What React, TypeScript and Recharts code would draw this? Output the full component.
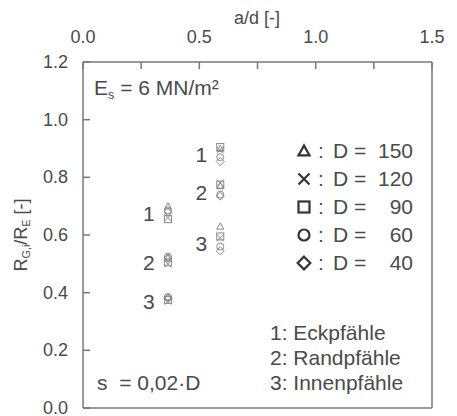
import React from "react";
import { ScatterChart, Scatter, XAxis, YAxis } from "recharts";

const adGroups = [0.365, 0.59];
const diameters = [150, 120, 90, 60, 40];
const symbols = ["triangle", "x", "square", "circle", "diamond"];

// R_G,i / R_E for [Eck, Rand, Innen] at each a/d group
const ratioD150 = [[0.7, 0.52, 0.385], [0.9, 0.77, 0.63]];
const ratioD120 = [[0.66, 0.5, 0.37], [0.895, 0.78, 0.59]];
const ratioD90 = [[0.655, 0.505, 0.375], [0.905, 0.775, 0.595]];
const ratioD60 = [[0.685, 0.525, 0.385], [0.87, 0.74, 0.56]];
const ratioD40 = [[0.68, 0.52, 0.38], [0.855, 0.735, 0.545]];

const pileNumbers = ["1", "2", "3"];
const labelPosG1 = [0.676, 0.503, 0.368];
const labelPosG2 = [0.878, 0.746, 0.572];

const pileTypes = ["1: Eckpfähle", "2: Randpfähle", "3: Innenpfähle"];

const xTicks = [0, 0.25, 0.5, 0.75, 1, 1.25, 1.5];
const yTicks = [0, 0.2, 0.4, 0.6, 0.8, 1.0, 1.2];

const allRatios = [ratioD150, ratioD120, ratioD90, ratioD60, ratioD40];

const series = allRatios.map((groups) =>
  adGroups.flatMap((ad, g) => groups[g].map((r) => ({ ad, r })))
);

const labelData = adGroups.flatMap((ad, g) =>
  pileNumbers.map((n, i) => ({ ad, r: g === 0 ? labelPosG1[i] : labelPosG2[i], n }))
);

const FONT = "'Liberation Sans', Arial, sans-serif";
const TEXT = "#4a4a4a";
const AXIS = "#777";
const TOP = 62;
const LEFT = 83;
const RIGHT = 432;
const BOTTOM = 408;
const TICK = 7;

function Marker({ kind, cx, cy, r, stroke, sw }: any) {
  const common = { fill: "none", stroke, strokeWidth: sw };
  switch (kind) {
    case "triangle":
      return (
        <path
          d={`M${cx},${cy - r}L${cx + r},${cy + r * 0.8}L${cx - r},${cy + r * 0.8}Z`}
          {...common}
          strokeLinejoin="miter"
        />
      );
    case "x":
      return (
        <path
          d={`M${cx - r},${cy - r}L${cx + r},${cy + r}M${cx + r},${cy - r}L${cx - r},${cy + r}`}
          {...common}
        />
      );
    case "square":
      return <rect x={cx - r} y={cy - r} width={2 * r} height={2 * r} {...common} />;
    case "circle":
      return <circle cx={cx} cy={cy} r={r} {...common} />;
    default: {
      const d = r * 1.15;
      return (
        <path
          d={`M${cx},${cy - d}L${cx + d},${cy}L${cx},${cy + d}L${cx - d},${cy}Z`}
          {...common}
        />
      );
    }
  }
}

const TopTick = (props: any) => {
  const x = props.payload.coordinate;
  const v = props.payload.value;
  const major = Math.abs(v * 2 - Math.round(v * 2)) < 1e-6;
  return (
    <g>
      <line x1={x} x2={x} y1={TOP} y2={TOP + TICK} stroke={AXIS} strokeWidth={1.5} />
      {major && (
        <text x={x} y={37} textAnchor="middle" dominantBaseline="central" fontSize={18} fill={TEXT} fontFamily={FONT}>
          {v.toFixed(1)}
        </text>
      )}
    </g>
  );
};

const BottomTick = (props: any) => {
  const x = props.payload.coordinate;
  return <line x1={x} x2={x} y1={BOTTOM} y2={BOTTOM - TICK} stroke={AXIS} strokeWidth={1.5} />;
};

const LeftTick = (props: any) => {
  const y = props.payload.coordinate;
  return (
    <g>
      <line x1={LEFT} x2={LEFT + TICK} y1={y} y2={y} stroke={AXIS} strokeWidth={1.5} />
      <text x={68} y={y} textAnchor="end" dominantBaseline="central" fontSize={18} fill={TEXT} fontFamily={FONT}>
        {props.payload.value.toFixed(1)}
      </text>
    </g>
  );
};

const RightTick = (props: any) => {
  const y = props.payload.coordinate;
  return <line x1={RIGHT} x2={RIGHT - TICK} y1={y} y2={y} stroke={AXIS} strokeWidth={1.5} />;
};

const sub = { fontSize: "0.6em", verticalAlign: "-0.3em" };

const abs = (left: number, top: number): React.CSSProperties => ({
  position: "absolute",
  left,
  top,
  fontSize: 21,
  lineHeight: 1,
  color: TEXT,
  whiteSpace: "pre",
  fontFamily: FONT,
});

export default function App() {
  return (
    <div style={{ position: "absolute", left: 0, top: 0, width: 457, height: 416, background: "#fff" }}>
      <ScatterChart
        width={457}
        height={416}
        margin={{ top: TOP - 1, right: 457 - RIGHT - 1, bottom: 416 - BOTTOM - 1, left: LEFT - 1 }}
      >
        <XAxis
          xAxisId="top"
          orientation="top"
          type="number"
          dataKey="ad"
          domain={[0, 1.5]}
          ticks={xTicks}
          height={1}
          tickLine={false}
          axisLine={{ stroke: AXIS, strokeWidth: 1.5 }}
          tick={<TopTick />}
          interval={0}
        />
        <XAxis
          xAxisId="bottom"
          orientation="bottom"
          type="number"
          dataKey="ad"
          domain={[0, 1.5]}
          ticks={xTicks}
          height={1}
          tickLine={false}
          axisLine={{ stroke: AXIS, strokeWidth: 1.5 }}
          tick={<BottomTick />}
          interval={0}
        />
        <YAxis
          yAxisId="left"
          type="number"
          dataKey="r"
          domain={[0, 1.2]}
          ticks={yTicks}
          width={1}
          tickLine={false}
          axisLine={{ stroke: AXIS, strokeWidth: 1.5 }}
          tick={<LeftTick />}
          interval={0}
        />
        <YAxis
          yAxisId="right"
          orientation="right"
          type="number"
          dataKey="r"
          domain={[0, 1.2]}
          ticks={yTicks}
          width={1}
          tickLine={false}
          axisLine={{ stroke: AXIS, strokeWidth: 1.5 }}
          tick={<RightTick />}
          interval={0}
        />
        {series.map((data, i) => (
          <Scatter
            key={diameters[i]}
            name={`D = ${diameters[i]}`}
            data={data}
            xAxisId="top"
            yAxisId="left"
            isAnimationActive={false}
            shape={(p: any) => <Marker kind={symbols[i]} cx={p.cx} cy={p.cy} r={3.5} stroke="#888" sw={1} />}
          />
        ))}
        <Scatter
          data={labelData}
          xAxisId="top"
          yAxisId="left"
          isAnimationActive={false}
          shape={(p: any) => (
            <text x={p.cx - 19} y={p.cy} textAnchor="middle" dominantBaseline="central" fontSize={21} fill={TEXT} fontFamily={FONT}>
              {p.payload?.n}
            </text>
          )}
        />
      </ScatterChart>

      <div style={{ ...abs(257, 9), fontSize: 18, transform: "translateX(-50%)" }}>a/d [-]</div>

      <div
        style={{
          ...abs(22, 235),
          fontSize: 18,
          transform: "translate(-50%, -50%) rotate(-90deg)",
        }}
      >
        R<span style={sub}>G,i</span>/R<span style={sub}>E</span> [-]
      </div>

      <div style={abs(94, 77)}>
        E<span style={sub}>s</span> = 6 MN/m²
      </div>

      <div style={abs(97, 372)}>s  = 0,02·D</div>

      {pileTypes.map((t, i) => (
        <div key={t} style={abs(270, 322 + i * 25)}>
          {t}
        </div>
      ))}

      {diameters.map((d, i) => (
        <div key={d} style={{ ...abs(296, 140 + i * 28), width: 120, height: 21 }}>
          <svg width={18} height={21} style={{ position: "absolute", left: 0, top: 0 }}>
            <Marker kind={symbols[i]} cx={8} cy={11} r={5.5} stroke="#333" sw={2.2} />
          </svg>
          <span style={{ position: "absolute", left: 22 }}>:</span>
          <span style={{ position: "absolute", left: 37 }}>D =</span>
          <span style={{ position: "absolute", right: 3, textAlign: "right" }}>{d}</span>
        </div>
      ))}
    </div>
  );
}
